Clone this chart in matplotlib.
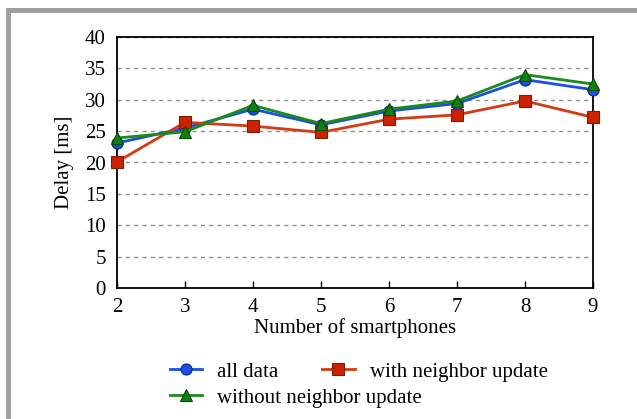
import matplotlib
matplotlib.use('Agg')
import matplotlib.pyplot as plt
from matplotlib.patches import Rectangle

plt.rcParams['font.family'] = ['Liberation Serif', 'DejaVu Serif']

# Data
phones = [2, 3, 4, 5, 6, 7, 8, 9]
all_data = [23.1, 25.5, 28.5, 26.0, 28.2, 29.4, 33.2, 31.6]
with_update = [20.1, 26.4, 25.8, 24.8, 26.9, 27.6, 29.8, 27.2]
without_update = [23.9, 24.9, 29.1, 26.2, 28.5, 29.8, 34.0, 32.5]
yticks = [0, 5, 10, 15, 20, 25, 30, 35, 40]

fig = plt.figure(figsize=(6.37, 4.19), dpi=100)
# grey frame on top and left edges
fig.patches.append(Rectangle((6 / 637, 0), 1, 1 - 8 / 419, transform=fig.transFigure,
                             facecolor='#a0a0a0', edgecolor='none', zorder=-10))
fig.patches.append(Rectangle((11 / 637, 0), 1, 1 - 13 / 419, transform=fig.transFigure,
                             facecolor='white', edgecolor='none', zorder=-9))

ax = fig.add_axes([117 / 637, 1 - 288 / 419, (593 - 117) / 637, (288 - 37) / 419])

l1, = ax.plot(phones, all_data, color='#1a4fe6', lw=2, marker='o', ms=8,
              mfc='#1a4fe6', mec='#0a2a80', mew=0.8, label='all data',
              zorder=3, clip_on=False)
l2, = ax.plot(phones, with_update, color='#d63a10', lw=2, marker='s', ms=8,
              mfc='#cc2200', mec='#801a0a', mew=0.8, label='with neighbor update',
              zorder=3, clip_on=False)
l3, = ax.plot(phones, without_update, color='#1a8a1a', lw=2, marker='^', ms=8.5,
              mfc='#108010', mec='#0a4a0a', mew=0.8, label='without neighbor update',
              zorder=4, clip_on=False)

ax.set_xlim(2, 9)
ax.set_ylim(0, 40)
ax.set_xticks(phones)
ax.set_yticks(yticks)
ax.yaxis.grid(True, ls=(0, (3, 3)), color='#909090', lw=1)
ax.set_axisbelow(True)
ax.tick_params(labelsize=15, direction='in', length=5, width=1, colors='black')
ax.tick_params(axis='y', length=0, pad=8)
ax.tick_params(axis='x', pad=7)
for s in ax.spines.values():
    s.set_linewidth(1.3)
    s.set_color('black')

ax.set_xlabel('Number of smartphones', fontsize=15, labelpad=1)
ax.set_ylabel('Delay [ms]', fontsize=15, labelpad=8)

# legend below: first row two entries, second row one entry
leg_kw = dict(loc='center left', frameon=False, fontsize=15, handlelength=1.55,
              handletextpad=0.72, columnspacing=2.1, borderpad=0, borderaxespad=0)
fig.legend([l1, l2], [l1.get_label(), l2.get_label()], ncol=2,
           bbox_to_anchor=(170 / 637, 1 - 372 / 419), **leg_kw)
fig.legend([l3], [l3.get_label()],
           bbox_to_anchor=(170 / 637, 1 - 398 / 419), **leg_kw)

fig.savefig('out.png', dpi=100)
